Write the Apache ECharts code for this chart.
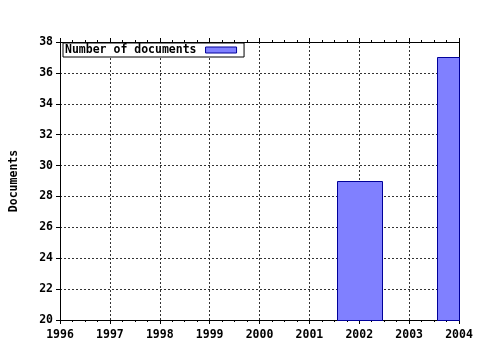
<!DOCTYPE html>
<html><head><meta charset="utf-8">
<script src="https://cdn.jsdelivr.net/npm/echarts@6/dist/echarts.min.js"></script>
<style>html,body{margin:0;padding:0;background:#fff}#c{width:480px;height:350px}</style>
</head><body><div id="c"></div>
<script>
const years = [2002, 2004];
const documents = [29, 37];
const seriesName = 'Number of documents';
const yAxisTitle = 'Documents';
const xMin = 1996, xMax = 2004, xStep = 1;
const yMin = 20, yMax = 38, yStep = 2;

const FONT = '"DejaVu Sans Mono", monospace';
const txt = {fontFamily: FONT, fontWeight: 'bold', fontSize: 11.5, color: '#000'};
const dotted = {color: '#333', type: [2, 2], width: 1};
const BAR_FILL = '#8080ff', BAR_EDGE = '#000099';
const BAR_HALF = 0.45; // half bar width in axis units

const chart = echarts.init(document.getElementById('c'), null, {renderer: 'canvas'});
chart.setOption({
  animation: false,
  backgroundColor: '#fff',
  grid: {left: 57, right: 21, top: 42, bottom: 30, containLabel: false},
  xAxis: [{
    type: 'value', min: xMin, max: xMax, interval: xStep, position: 'bottom',
    axisLine: {show: true, lineStyle: {color: '#000', width: 1}},
    axisTick: {show: true, length: 4, lineStyle: {color: '#000'}},
    minorTick: {show: true, splitNumber: 4, length: 2, lineStyle: {color: '#000'}},
    axisLabel: Object.assign({margin: 9, formatter: v => String(v)}, txt),
    splitLine: {show: true, lineStyle: dotted}
  }, {
    type: 'value', min: xMin, max: xMax, interval: xStep, position: 'top',
    axisLine: {show: true, onZero: false, lineStyle: {color: '#000', width: 1}},
    axisTick: {show: true, length: 4, lineStyle: {color: '#000'}},
    minorTick: {show: true, splitNumber: 4, length: 2, lineStyle: {color: '#000'}},
    axisLabel: {show: false},
    splitLine: {show: false}
  }],
  yAxis: [{
    type: 'value', min: yMin, max: yMax, interval: yStep, position: 'left',
    name: yAxisTitle, nameLocation: 'middle', nameGap: 40, nameRotate: 90,
    nameTextStyle: txt,
    axisLine: {show: true, onZero: false, lineStyle: {color: '#000', width: 1}},
    axisTick: {show: true, length: 4, lineStyle: {color: '#000'}},
    axisLabel: Object.assign({margin: 7}, txt),
    splitLine: {show: true, lineStyle: dotted}
  }, {
    type: 'value', min: yMin, max: yMax, interval: yStep, position: 'right',
    axisLine: {show: true, onZero: false, lineStyle: {color: '#000', width: 1}},
    axisTick: {show: false}, axisLabel: {show: false}, splitLine: {show: false}
  }],
  legend: {
    left: 63, top: 43, orient: 'horizontal', align: 'right',
    backgroundColor: '#fff', borderColor: '#000', borderWidth: 1,
    padding: [1, 7, 1, 2], itemGap: 0, itemWidth: 31, itemHeight: 6,
    itemStyle: {color: BAR_FILL, borderColor: BAR_EDGE, borderWidth: 1},
    textStyle: Object.assign({padding: [0, 4, 0, 0]}, txt),
    data: [{name: seriesName, icon: 'rect'}]
  },
  series: [{
    name: seriesName, type: 'custom', xAxisIndex: 0, yAxisIndex: 0,
    itemStyle: {color: BAR_FILL, borderColor: BAR_EDGE, borderWidth: 1},
    encode: {x: 0, y: 1},
    renderItem: function (params, api) {
      const x = api.value(0), y = api.value(1);
      const tl = api.coord([x - BAR_HALF, y]);
      const br = api.coord([x + BAR_HALF, yMin]);
      const cs = params.coordSys;
      const rect = echarts.graphic.clipRectByRect(
        {x: tl[0], y: tl[1], width: br[0] - tl[0], height: br[1] - tl[1]},
        {x: cs.x, y: cs.y, width: cs.width, height: cs.height});
      if (!rect) return null;
      return {
        type: 'rect',
        shape: {x: Math.round(rect.x) + 0.5, y: Math.round(rect.y) + 0.5,
                width: Math.round(rect.width), height: Math.round(rect.height)},
        style: {fill: BAR_FILL, stroke: BAR_EDGE, lineWidth: 1}
      };
    },
    data: years.map((y, i) => [y, documents[i]])
  }]
});
</script></body></html>
